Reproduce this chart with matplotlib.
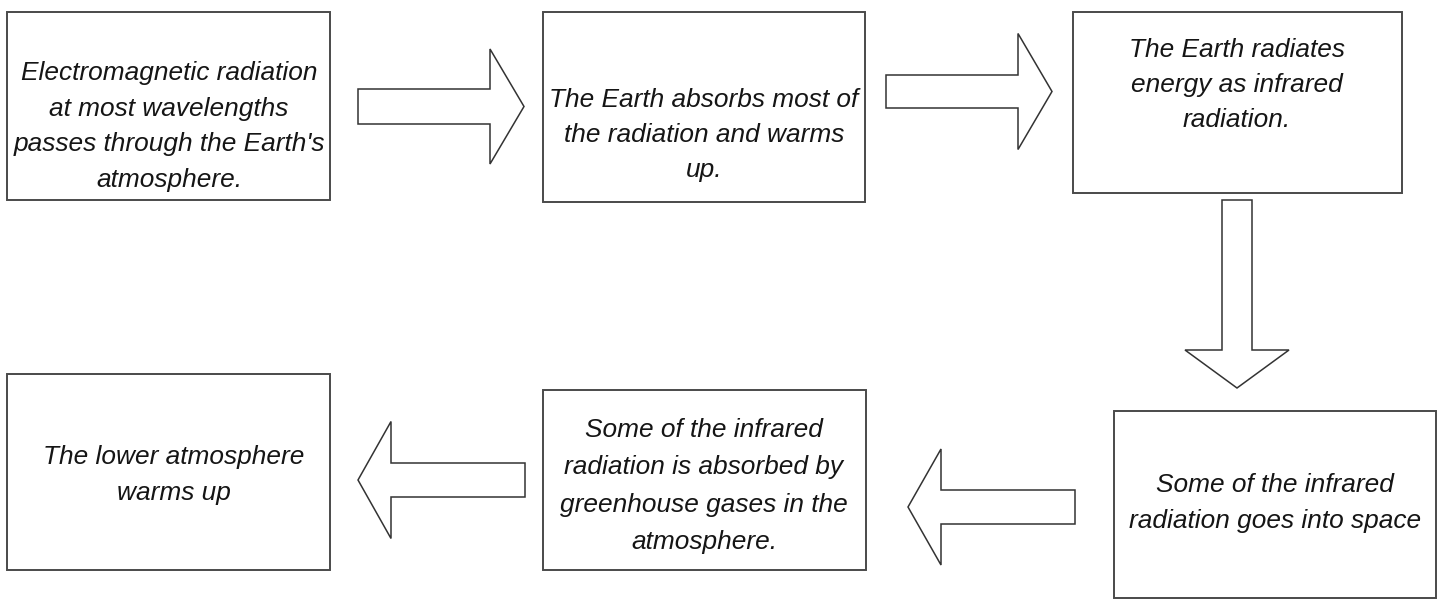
import matplotlib
matplotlib.use("Agg")
import matplotlib.pyplot as plt
from matplotlib.patches import Rectangle, FancyArrow

# ---- content ----
box_texts = [
    "Electromagnetic radiation\nat most wavelengths\npasses through the Earth's\natmosphere.",
    "The Earth absorbs most of\nthe radiation and warms\nup.",
    "The Earth radiates\nenergy as infrared\nradiation.",
    "Some of the infrared\nradiation goes into space",
    "Some of the infrared\nradiation is absorbed by\ngreenhouse gases in the\natmosphere.",
    "The lower atmosphere\nwarms up",
]

# ---- layout (pixels, origin top-left) ----
box_left = [7, 543, 1073, 1114, 543, 7]
box_top = [12, 12, 12, 411, 390, 374]
box_right = [330, 865, 1402, 1436, 866, 330]
box_bottom = [200, 202, 193, 598, 570, 570]
text_cx = [169, 704, 1237, 1275, 704, 174]
text_cy = [126.5, 135, 85, 503, 486, 475]
text_ls = [1.62, 1.6, 1.6, 1.68, 1.7, 1.64]

# arrows: tail x, tail y, dx, dy, shaft width, head width, head length
arrow_x = [358, 886, 1237, 1075, 525]
arrow_y = [106.5, 91.5, 200, 507, 480]
arrow_dx = [166, 166, 0, -167, -167]
arrow_dy = [0, 0, 188, 0, 0]
arrow_w = [35, 33, 30, 34, 34]
arrow_hw = [115, 116, 104, 116, 117]
arrow_hl = [34, 34, 38, 33, 33]

W, H = 1445, 599
fig = plt.figure(figsize=(W / 100, H / 100), dpi=100)
ax = fig.add_axes([0, 0, 1, 1])
ax.set_xlim(0, W)
ax.set_ylim(H, 0)
ax.axis("off")

for i, txt in enumerate(box_texts):
    ax.add_patch(Rectangle((box_left[i], box_top[i]),
                           box_right[i] - box_left[i], box_bottom[i] - box_top[i],
                           facecolor="white", edgecolor="#4a4a4a", linewidth=1.4))
    ax.text(text_cx[i], text_cy[i], txt, ha="center", va="center",
            multialignment="center", fontsize=18.9, style="italic",
            family="Liberation Sans", color="#151515", linespacing=text_ls[i])

for i in range(len(arrow_x)):
    ax.add_patch(FancyArrow(arrow_x[i], arrow_y[i], arrow_dx[i], arrow_dy[i],
                            width=arrow_w[i], head_width=arrow_hw[i],
                            head_length=arrow_hl[i], length_includes_head=True,
                            facecolor="white", edgecolor="#333333", linewidth=1.1))

fig.savefig("out.png", dpi=100, facecolor="white")
